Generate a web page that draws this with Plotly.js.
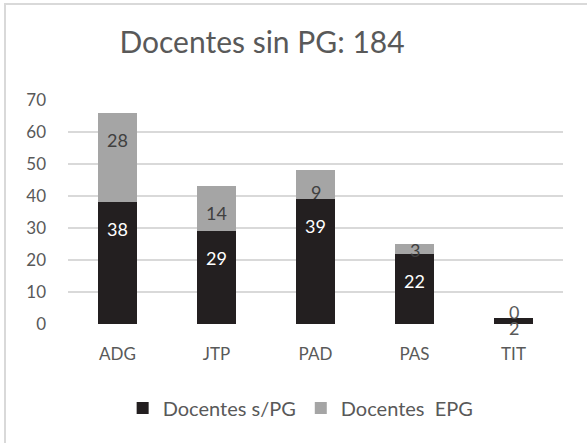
<!DOCTYPE html>
<html><head><meta charset="utf-8">
<script src="https://cdn.plot.ly/plotly-3.0.1.min.js"></script>
<style>
html,body{margin:0;padding:0;background:#fff;overflow:hidden;}
#frame{position:absolute;left:4px;top:3px;width:700px;height:600px;border:2px solid #D9D9D9;}
#chart{position:absolute;left:0;top:0;width:587px;height:443px;}
</style></head>
<body>
<div id="frame"></div>
<div id="chart"></div>
<script>
const categories = ["ADG","JTP","PAD","PAS","TIT"];
const sinPG = [38,29,39,22,2];
const conEPG = [28,14,9,3,0];
const seriesNames = ["Docentes s/PG","Docentes  EPG"];
const titleText = "Docentes sin PG: 184";

const font = "Lato, 'Open Sans', sans-serif";
const H = 443, T = 100, B = 119, YMAX = 70;
const pxPerUnit = (H - T - B) / YMAX;

function labelShift(v) {
  if (v === 0) return 5.5;
  const bp = v * pxPerUnit;
  if (bp < 8) return -(bp + 4);
  return -Math.min(27, Math.max(bp - 7, bp / 2 + 1));
}
function labelColor(v, inside) {
  return (v * pxPerUnit < 8) ? "#595959" : inside;
}

const annotations = [];
categories.forEach((c, i) => {
  annotations.push({x:c, y:sinPG[i], xref:"x", yref:"y", text:String(sinPG[i]), showarrow:false,
    yshift:labelShift(sinPG[i]), font:{family:font, size:18, color:labelColor(sinPG[i], "#FFFFFF")}});
  const top = sinPG[i] + conEPG[i];
  annotations.push({x:c, y:top, xref:"x", yref:"y", text:String(conEPG[i]), showarrow:false,
    yshift:labelShift(conEPG[i]), font:{family:font, size:18, color:labelColor(conEPG[i], "#404040")}});
});

const traces = [
  {type:"bar", name:seriesNames[0], x:categories, y:sinPG, marker:{color:"#231F20"}, hoverinfo:"none"},
  {type:"bar", name:seriesNames[1], x:categories, y:conEPG, marker:{color:"#A5A5A5"}, hoverinfo:"none"}
];
const layout = {
  width:587, height:443,
  paper_bgcolor:"rgba(0,0,0,0)", plot_bgcolor:"rgba(0,0,0,0)",
  barmode:"stack", bargap:0.6,
  margin:{l:68, r:24, t:T, b:B},
  title:{text:titleText, x:0.392, xref:"paper", xanchor:"center", y:0.903, yanchor:"middle",
         font:{family:font, size:30, color:"#595959"}},
  xaxis:{type:"category", showgrid:false, zeroline:false, showline:false, ticks:"",
         ticklabelstandoff:18, tickfont:{family:font, size:17, color:"#595959"}},
  yaxis:{range:[0,YMAX], dtick:10, showgrid:true, gridcolor:"#D9D9D9", gridwidth:1.5, zeroline:false,
         showline:false, ticks:"", ticklabelstandoff:21, tickfont:{family:font, size:17, color:"#595959"}},
  showlegend:true,
  legend:{orientation:"h", x:0.47, xanchor:"center", y:-0.375, yanchor:"middle",
          font:{family:font, size:20, color:"#595959"}, traceorder:"normal", itemwidth:30},
  annotations:annotations,
  font:{family:font}
};
Plotly.newPlot("chart", traces, layout, {displayModeBar:false, staticPlot:true});
</script>
</body></html>
